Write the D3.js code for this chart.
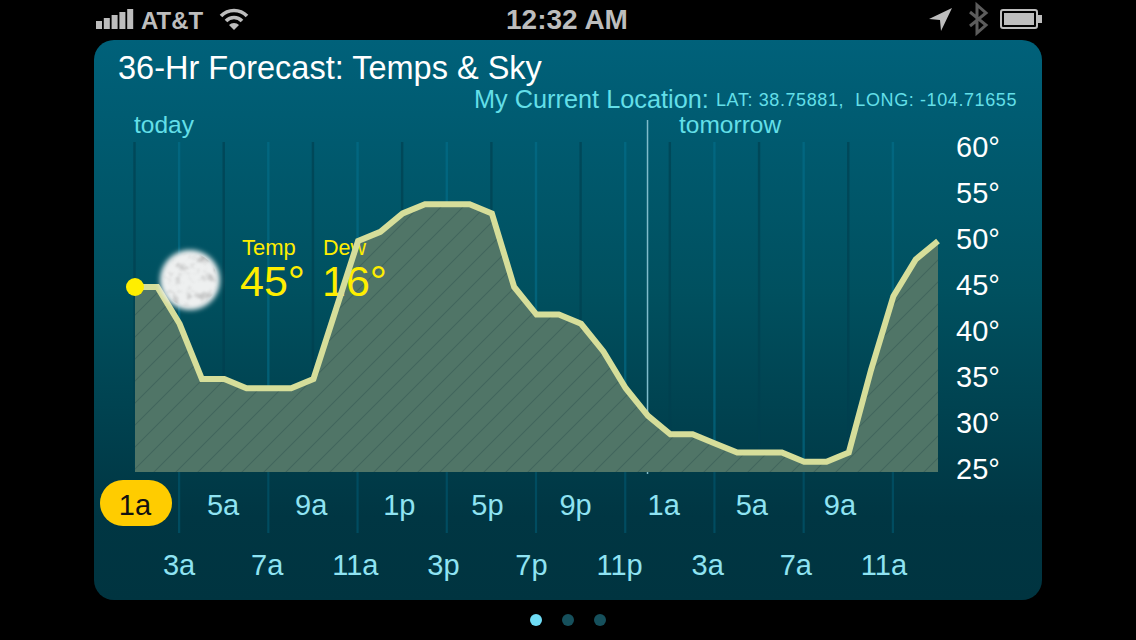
<!DOCTYPE html>
<html>
<head>
<meta charset="utf-8">
<script src="https://cdn.jsdelivr.net/npm/d3@7"></script>
<style>
  html, body { margin: 0; padding: 0; background: #000; overflow: hidden; }
  svg { display: block; }
  text { font-family: "Liberation Sans", Arial, sans-serif; }
</style>
</head>
<body>
<svg id="chart" width="1136" height="640"></svg>
<script>
// hourly forecast, 1a today through 1p tomorrow
const hours = ["1a","2a","3a","4a","5a","6a","7a","8a","9a","10a","11a","12p","1p","2p","3p","4p","5p","6p","7p","8p","9p","10p","11p","12a",
  "1a+","2a+","3a+","4a+","5a+","6a+","7a+","8a+","9a+","10a+","11a+","12p+","1p+"];
const temps = [45,45,41,35,35,34,34,34,35,42.5,50,51,53,54,54,54,53,45,42,42,41,38,34,31,
  29,29,28,27,27,27,26,26,27,36,44,48,50];
const tempTicks = [25,30,35,40,45,50,55,60];
const topRowHours = ["1a","5a","9a","1p","5p","9p","1a+","5a+","9a+"];
const bottomRowHours = ["3a","7a","11a","3p","7p","11p","3a+","7a+","11a+"];
const dayLabels = [["today","1a"],["tomorrow","12a"]];
const currentTemp = 45;
const currentDew = 16;
const clean = d => d.replace("+","");

const svg = d3.select("#chart");
const defs = svg.append("defs");

const bg = defs.append("linearGradient").attr("id","panelBg").attr("x1",0).attr("x2",0).attr("y1",0).attr("y2",1);
bg.append("stop").attr("offset","0%").attr("stop-color","#00617a");
bg.append("stop").attr("offset","45%").attr("stop-color","#00505f");
bg.append("stop").attr("offset","85%").attr("stop-color","#003643");
bg.append("stop").attr("offset","100%").attr("stop-color","#003440");

const hatch = defs.append("pattern").attr("id","hatch").attr("patternUnits","userSpaceOnUse")
  .attr("width",22).attr("height",22).attr("y",472);
hatch.append("rect").attr("width",22).attr("height",22).attr("fill","#507567");
hatch.append("path").attr("d","M-2,2 L2,-2 M0,22 L22,0 M20,24 L24,20").attr("stroke","#41655c").attr("stroke-width",1.1);

const glow = defs.append("filter").attr("id","soft").attr("x","-30%").attr("y","-30%").attr("width","160%").attr("height","160%");
glow.append("feGaussianBlur").attr("stdDeviation",2.6);

const speckle = defs.append("filter").attr("id","speckle").attr("x",0).attr("y",0).attr("width","100%").attr("height","100%");
speckle.append("feTurbulence").attr("type","fractalNoise").attr("baseFrequency",0.11).attr("numOctaves",3).attr("seed",11);
speckle.append("feColorMatrix").attr("values","0 0 0 0 0.38  0 0 0 0 0.38  0 0 0 0 0.38  2.6 0 0 0 -1.3");
speckle.append("feGaussianBlur").attr("stdDeviation",0.9);
speckle.append("feComposite").attr("in2","SourceAlpha").attr("operator","in");

// panel
svg.append("rect").attr("x",94).attr("y",40).attr("width",948).attr("height",560).attr("rx",20)
  .attr("fill","url(#panelBg)");

const x = d3.scalePoint().domain(hours).range([135,938]);
const y = d3.scaleLinear().domain([25,60]).range([471,149]);
// the hour labels run a little tighter than the plot itself
const labelX = d3.scalePoint().domain(hours).range([135,928]);

// vertical hour lines
const gridHours = hours.filter((d,i) => i % 2 == 0 && i < 36);
svg.append("g").selectAll("line").data(gridHours).join("line")
  .attr("x1",d => x(d)-0.5).attr("x2",d => x(d)-0.5)
  .attr("y1",142).attr("y2",471)
  .attr("stroke-width",2.4)
  .attr("stroke",(d,i) => i % 2 == 0 ? "#003f4e" : "#04708c")
  .attr("stroke-opacity",(d,i) => i % 2 == 0 ? .65 : .6);

// lines down into the label rows
svg.append("g").selectAll("line").data(bottomRowHours).join("line")
  .attr("x1",d => x(d)-0.5).attr("x2",d => x(d)-0.5)
  .attr("y1",472).attr("y2",533)
  .attr("stroke","#004c60").attr("stroke-width",2.2);

// midnight divider, the area covers it
svg.append("line").attr("x1",x("12a")-0.5).attr("x2",x("12a")-0.5).attr("y1",120).attr("y2",474)
  .attr("stroke","#7fbccb").attr("stroke-width",1.5);

svg.append("text").attr("x",242).attr("y",255).attr("fill","#ffee00").attr("font-size",22).text("Temp");
svg.append("text").attr("x",240).attr("y",296).attr("fill","#ffee00").attr("font-size",43).text(currentTemp+"°");

// area + line
const area = d3.area().x((d,i) => x(hours[i])).y0(y(25)+1).y1(d => y(d));
svg.append("path").datum(temps).attr("d",area).attr("fill","url(#hatch)");

// the dew reading sits on the fill, below the line
svg.append("text").attr("x",322).attr("y",296).attr("fill","#ffee00").attr("font-size",43).text(currentDew+"°");
svg.append("text").attr("x",323).attr("y",255).attr("fill","#ffee00").attr("font-size",21.5).text("Dew");

const line = d3.line().x((d,i) => x(hours[i])).y(d => y(d));
svg.append("path").datum(temps).attr("d",line).attr("fill","none")
  .attr("stroke","#d6de9a").attr("stroke-width",6).attr("stroke-linejoin","miter");

svg.append("circle").attr("cx",x("1a")).attr("cy",y(currentTemp)).attr("r",9).attr("fill","#ffee00");

// moon
svg.append("circle").attr("cx",190).attr("cy",280).attr("r",30).attr("fill","#eef0f0").attr("filter","url(#soft)");
svg.append("circle").attr("cx",190).attr("cy",280).attr("r",27).attr("fill","#fff").attr("filter","url(#speckle)").attr("opacity",.8);

// y axis
const yAxis = d3.axisRight(y).tickValues(tempTicks).tickSize(0).tickPadding(0).tickFormat(d => d+"°");
const yg = svg.append("g").attr("transform","translate(956,-2)").call(yAxis);
yg.select(".domain").remove();
yg.selectAll("text").attr("fill","#fff").attr("font-size",29).attr("font-family","Liberation Sans");

// day labels
svg.append("g").selectAll("text").data(dayLabels).join("text")
  .attr("x",d => x(d[1]) + (d[0]=="today" ? -1 : 31)).attr("y",133)
  .attr("fill","#63dfe8").attr("font-size",24.5).text(d => d[0]);

// hour pill and labels
svg.append("rect").attr("x",100).attr("y",480).attr("width",72).attr("height",46).attr("rx",23).attr("fill","#ffcc00");
svg.append("g").selectAll("text").data(topRowHours).join("text")
  .attr("x",d => labelX(d)).attr("y",515).attr("text-anchor","middle").attr("font-size",29)
  .attr("fill",d => d=="1a" ? "#111" : "#8fe3f2").text(clean);
svg.append("g").selectAll("text").data(bottomRowHours).join("text")
  .attr("x",d => labelX(d)).attr("y",575).attr("text-anchor","middle").attr("font-size",29)
  .attr("fill","#8fe3f2").text(clean);

// header
svg.append("text").attr("x",118).attr("y",79).attr("fill","#fff").attr("font-size",32.5).text("36-Hr Forecast: Temps & Sky");
svg.append("text").attr("x",474).attr("y",108).attr("fill","#63dfe8").attr("font-size",25.3).text("My Current Location:");
svg.append("text").attr("x",716).attr("y",106).attr("fill","#63dfe8").attr("font-size",18).attr("letter-spacing",0.6)
  .style("white-space","pre").text("LAT: 38.75881,  LONG: -104.71655");

// page dots
svg.append("g").selectAll("circle").data([0,1,2]).join("circle")
  .attr("cx",d => 536+d*32).attr("cy",620).attr("r",6)
  .attr("fill",d => d==0 ? "#6fdcf5" : "#16505c");

// status bar
const bars = [8,11,14,17,20];
svg.append("g").selectAll("rect").data(bars).join("rect")
  .attr("x",(d,i) => 96+i*7.8).attr("y",d => 29-d).attr("width",6).attr("height",d => d)
  .attr("fill","#bdbdbd");
svg.append("text").attr("x",141).attr("y",29).attr("fill","#bdbdbd").attr("font-size",24).attr("font-weight","bold").text("AT&T");
const wifi = svg.append("g").attr("transform","translate(234,29)").attr("fill","none").attr("stroke","#bdbdbd").attr("stroke-width",3.6);
wifi.append("path").attr("d","M-13,-13 A18,18 0 0 1 13,-13");
wifi.append("path").attr("d","M-8,-8 A11,11 0 0 1 8,-8");
wifi.append("path").attr("d","M-5,-4 L0,1 L5,-4 A7,7 0 0 0 -5,-4 Z").attr("fill","#bdbdbd").attr("stroke","none");
svg.append("text").attr("x",567).attr("y",29).attr("text-anchor","middle").attr("fill","#bdbdbd").attr("font-size",28).attr("font-weight","bold").text("12:32 AM");
svg.append("path").attr("d","M952,8 L929,19 L940,20 L941,31 Z").attr("fill","#bdbdbd");
svg.append("path").attr("d","M970,12 L986,25 L977,33 L977,5 L986,13 L970,26").attr("fill","none").attr("stroke","#5c5c5c").attr("stroke-width",3);
svg.append("rect").attr("x",1001).attr("y",10).attr("width",36).attr("height",18).attr("rx",2).attr("fill","none").attr("stroke","#bdbdbd").attr("stroke-width",2);
svg.append("rect").attr("x",1004).attr("y",13).attr("width",30).attr("height",12).attr("fill","#bdbdbd");
svg.append("rect").attr("x",1038).attr("y",15).attr("width",4).attr("height",8).attr("fill","#bdbdbd");
</script>
</body>
</html>
